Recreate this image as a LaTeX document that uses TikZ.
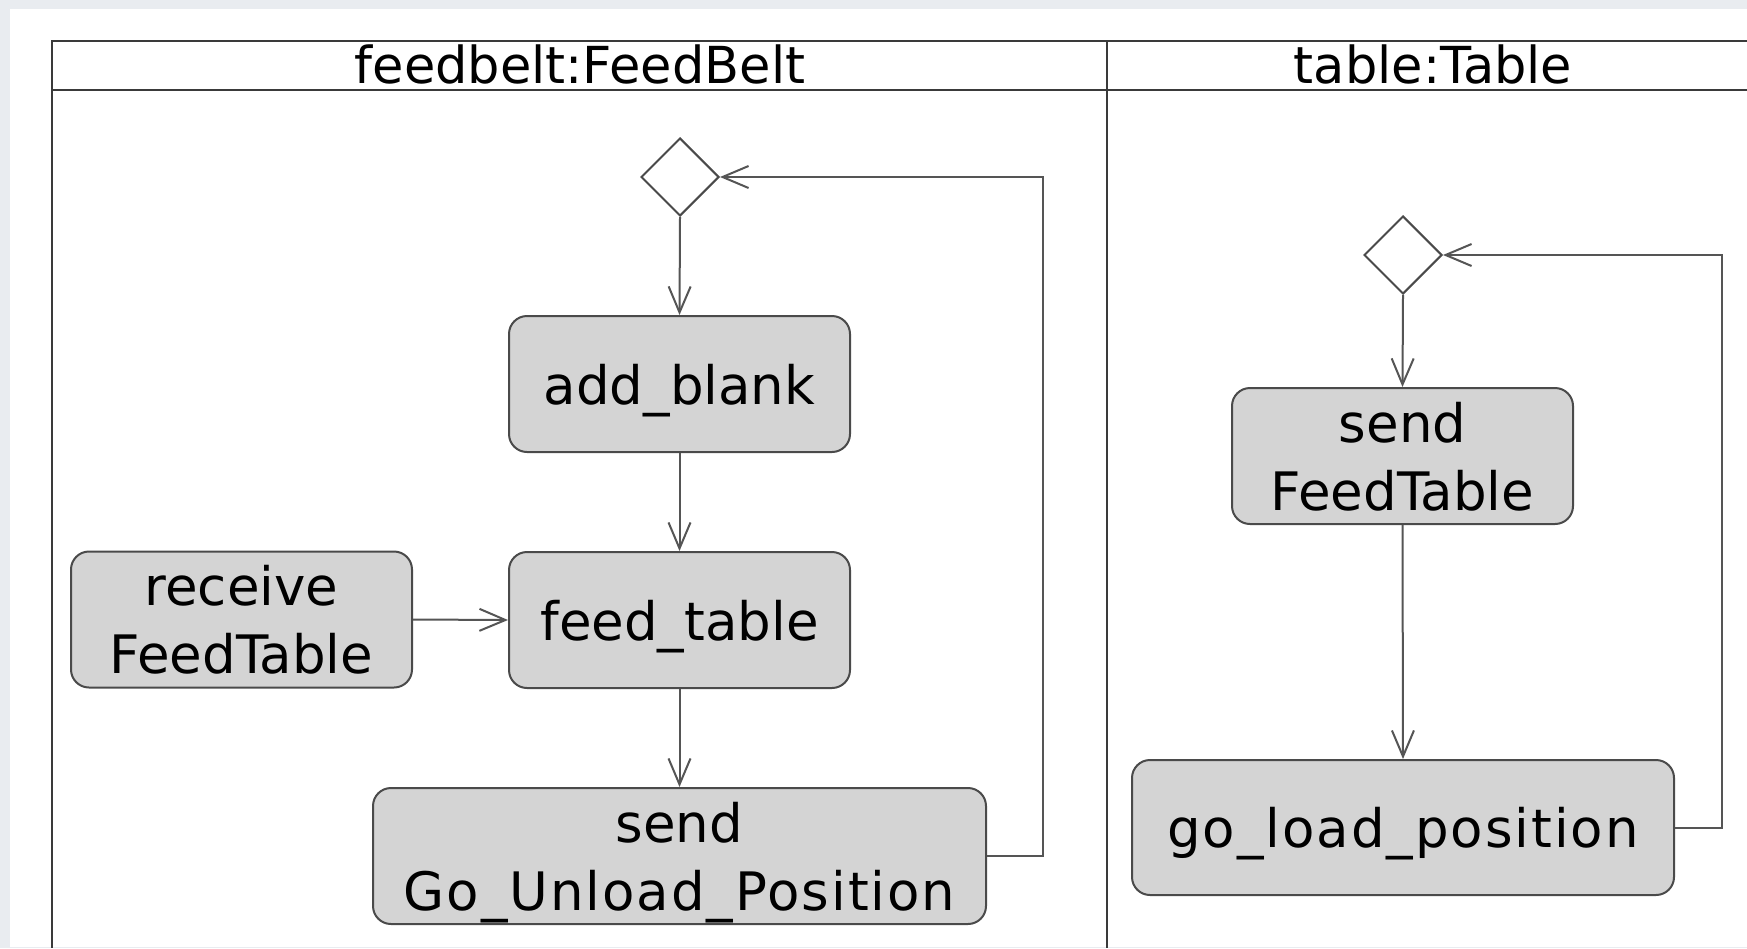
\documentclass[tikz,border=0pt]{standalone}
\usepackage{fontspec}
\setmainfont{DejaVu Sans}
\newfontfamily\widefont[LetterSpace=3.7]{DejaVu Sans}
\usetikzlibrary{shapes.geometric,arrows.meta}
\definecolor{pagebg}{HTML}{E9ECF0}
\definecolor{boxfill}{HTML}{D4D4D4}
\definecolor{boxline}{HTML}{4A4A4A}
\definecolor{flowline}{HTML}{555555}
\definecolor{frameline}{HTML}{3A3A3A}
\begin{document}
\begin{tikzpicture}[x=1pt,y=-1pt,
  action/.style={draw=boxline, line width=2pt, fill=boxfill, rounded corners=18pt,
    minimum width=341pt, minimum height=136pt, inner sep=0pt, align=center,
    text depth=0pt, font=\fontsize{53}{68}\selectfont},
  merge/.style={draw=boxline, line width=2pt, fill=white, diamond,
    minimum width=78pt, minimum height=78pt, inner sep=0pt},
  flow/.style={draw=flowline, line width=2pt, -{Straight Barb[length=26pt,width=22pt]}},
  lane/.style={draw=frameline, line width=2.5pt},
  lanetitle/.style={anchor=base, font=\fontsize{51}{60}\selectfont}]

% page and canvas
\useasboundingbox (0,0) rectangle (1747,948);
\fill[pagebg] (0,0) rectangle (1747,948);
\fill[white] (10,9) rectangle (1747,947);

% swimlane frame
\draw[lane] (1747,41) -- (52,41) -- (52,948);
\draw[lane] (52,90) -- (1747,90);
\draw[lane] (1107,41) -- (1107,948);
\node[lanetitle] (lane1) at (580,83) {feedbelt:FeedBelt};
\node[lanetitle] (lane2) at (1433,83) {table:Table};

% feedbelt lane
\node[merge] (d1) at (680,177) {};
\node[action] (addblank) at (679.5,384) {add\_blank};
\node[action] (feedtable) at (679.5,620) {feed\_table};
\node[action] (receive) at (241.5,619.5) {receive\\FeedTable};
\node[action, minimum width=613pt] (sendgup) at (679.5,856) {send\\{\widefont Go\_Unload\_Position}};

\draw[flow] (d1.south) -- (addblank.north);
\draw[flow] (addblank.south) -- (feedtable.north);
\draw[flow] (receive.east) -- (feedtable.west);
\draw[flow] (feedtable.south) -- (sendgup.north);
\draw[flow] (sendgup.east) -- ++(56,0) |- (d1.east);

% table lane
\node[merge] (d2) at (1403,255) {};
\node[action] (sendft) at (1402.5,456) {send\\FeedTable};
\node[action, minimum width=542pt, minimum height=135pt] (goload) at (1403,827.5) {{\widefont go\_load\_position}};

\draw[flow] (d2.south) -- (sendft.north);
\draw[flow] (sendft.south) -- (goload.north);
\draw[flow] (goload.east) -- ++(47,0) |- (d2.east);
\end{tikzpicture}
\end{document}
